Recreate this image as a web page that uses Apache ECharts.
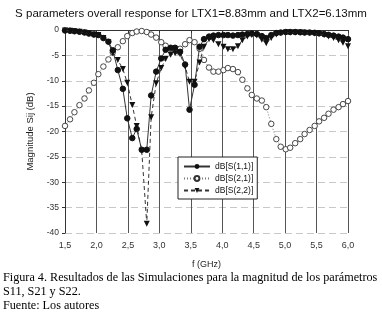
<!DOCTYPE html>
<html><head><meta charset="utf-8">
<script src="https://cdn.jsdelivr.net/npm/echarts@6/dist/echarts.min.js"></script>
<style>html,body{margin:0;padding:0;background:#fff}#c{width:382px;height:318px}</style>
</head><body><div id="c"></div>
<script>
const freq = [1.50,1.58,1.65,1.73,1.81,1.88,1.96,2.03,2.11,2.19,2.26,2.34,2.42,2.49,2.57,2.64,2.72,2.80,2.87,2.95,3.03,3.10,3.18,3.25,3.33,3.41,3.48,3.56,3.64,3.71,3.79,3.86,3.94,4.02,4.09,4.17,4.25,4.32,4.40,4.47,4.55,4.63,4.70,4.78,4.86,4.93,5.01,5.08,5.16,5.24,5.31,5.39,5.47,5.54,5.62,5.69,5.77,5.85,5.92,6.00];
const s11 = [-0.1,-0.15,-0.25,-0.35,-0.5,-0.7,-0.9,-1.0,-1.6,-2.3,-4.0,-7.9,-11.6,-17.4,-21.3,-19.5,-23.6,-23.6,-12.9,-8.2,-5.6,-3.9,-3.5,-3.5,-4.3,-6.8,-15.7,-10.8,-3.3,-1.8,-1.3,-1.1,-1.0,-1.0,-1.0,-1.1,-1.0,-0.9,-0.8,-0.7,-0.8,-1.2,-1.6,-1.0,-0.6,-0.5,-0.4,-0.4,-0.4,-0.45,-0.5,-0.5,-0.55,-0.65,-0.8,-0.95,-1.1,-1.3,-1.5,-1.8];
const s21 = [-18.9,-17.6,-16.2,-14.8,-13.5,-11.9,-10.4,-8.7,-7.2,-5.8,-4.4,-3.4,-2.2,-1.2,-0.6,-0.3,-0.2,-0.4,-0.9,-1.5,-2.4,-3.1,-3.7,-3.9,-3.7,-2.8,-2.0,-2.4,-3.7,-5.9,-7.4,-8.2,-8.2,-7.9,-7.5,-7.7,-8.3,-9.8,-11.5,-12.8,-13.5,-13.9,-15.2,-18.5,-21.5,-23.0,-23.5,-23.2,-22.3,-21.5,-20.5,-19.7,-18.9,-18.0,-17.3,-16.5,-15.7,-15.2,-14.6,-14.0];
const s22 = [-0.1,-0.15,-0.25,-0.35,-0.5,-0.7,-0.9,-1.0,-1.6,-2.4,-4.6,-5.9,-7.7,-10.4,-14.8,-18.9,-23.8,-38.2,-17.2,-10.5,-7.5,-5.7,-4.9,-4.6,-4.8,-7.2,-10.2,-10.2,-6.4,-3.3,-1.8,-2.0,-2.8,-3.3,-3.8,-3.8,-3.2,-2.0,-1.3,-1.0,-1.1,-1.9,-2.6,-1.6,-0.9,-0.6,-0.5,-0.5,-0.5,-0.5,-0.55,-0.6,-0.7,-0.8,-1.0,-1.3,-1.6,-2.0,-2.5,-3.2];
const seriesNames = ['dB[S(1,1)]','dB[S(2,1)]','dB[S(2,2)]'];
const xTickLabels = ['1,5','2,0','2,5','3,0','3,5','4,0','4,5','5,0','5,5','6,0'];
const yTickLabels = ['-40','-35','-30','-25','-20','-15','-10','-5','0'];
const titleText = 'S parameters overall response for LTX1=8.83mm and LTX2=6.13mm';
const captionLines = ['Figura 4. Resultados de las Simulaciones para la magnitud de los parámetros','S11, S21 y S22.','Fuente: Los autores'];

const pair = (ys) => freq.map((f,i)=>[f, ys[i]]);
const sans = 'Liberation Sans';
const chart = echarts.init(document.getElementById('c'), null, {renderer:'canvas'});
chart.setOption({
  animation:false,
  backgroundColor:'#fff',
  title:{text:titleText,left:'center',top:3,textStyle:{fontFamily:sans,fontSize:11.5,fontWeight:'normal',color:'#111'}},
  grid:{left:65,right:34,top:30,bottom:85},
  xAxis:{type:'value',min:1.5,max:6.0,interval:0.5,
    name:'f (GHz)',nameLocation:'middle',nameGap:27,nameTextStyle:{fontFamily:sans,fontSize:9,color:'#222'},
    axisLine:{lineStyle:{color:'#333',width:1}},
    axisTick:{show:true,length:3,lineStyle:{color:'#333'}},
    axisLabel:{fontFamily:sans,fontSize:9,color:'#333',margin:8,formatter:(v)=>{const i=Math.round((v-1.5)/0.5);return xTickLabels[i]||'';}},
    splitLine:{show:true,lineStyle:{color:'#555',width:1,type:'solid'}}},
  yAxis:{type:'value',min:-40,max:0,interval:5,
    name:'Magnitude Sij (dB)',nameLocation:'middle',nameGap:26,nameRotate:90,nameTextStyle:{fontFamily:sans,fontSize:9.5,color:'#222'},
    axisLine:{show:true,lineStyle:{color:'#333',width:1}},
    axisTick:{show:true,length:3,lineStyle:{color:'#333'}},
    axisLabel:{fontFamily:sans,fontSize:8.5,color:'#333',margin:6,formatter:(v)=>{const i=Math.round((v+40)/5);return yTickLabels[i]||'';}},
    splitLine:{show:true,lineStyle:{color:'#c8c8c8',width:1,type:[7,4]}}},
  legend:{orient:'vertical',left:178,top:157,itemWidth:26,itemHeight:6,itemGap:3,
    padding:[5,4,4,5],borderColor:'#222',borderWidth:1,backgroundColor:'#fff',
    textStyle:{fontFamily:sans,fontSize:8.5,color:'#111'},data:seriesNames},
  series:[
    {name:seriesNames[0],type:'line',data:pair(s11),symbol:'circle',symbolSize:5.5,z:3,
      itemStyle:{color:'#111',borderColor:'#111'},lineStyle:{color:'#333',width:1,type:'solid'}},
    {name:seriesNames[1],type:'line',data:pair(s21),symbol:'circle',symbolSize:5.5,z:2,
      itemStyle:{color:'#fff',borderColor:'#333',borderWidth:0.9},lineStyle:{color:'#777',width:1,type:[1,2]}},
    {name:seriesNames[2],type:'line',data:pair(s22),symbol:'triangle',symbolRotate:180,symbolSize:6,z:4,
      itemStyle:{color:'#111'},lineStyle:{color:'#333',width:1,type:[4,3]}}
  ],
  graphic:[
    {type:'text',left:3,top:272,style:{text:captionLines[0],font:'12.2px "Liberation Serif"',fill:'#000'}},
    {type:'text',left:3,top:286,style:{text:captionLines[1],font:'12.2px "Liberation Serif"',fill:'#000'}},
    {type:'text',left:3,top:300,style:{text:captionLines[2],font:'12.2px "Liberation Serif"',fill:'#000'}}
  ]
});
</script></body></html>
